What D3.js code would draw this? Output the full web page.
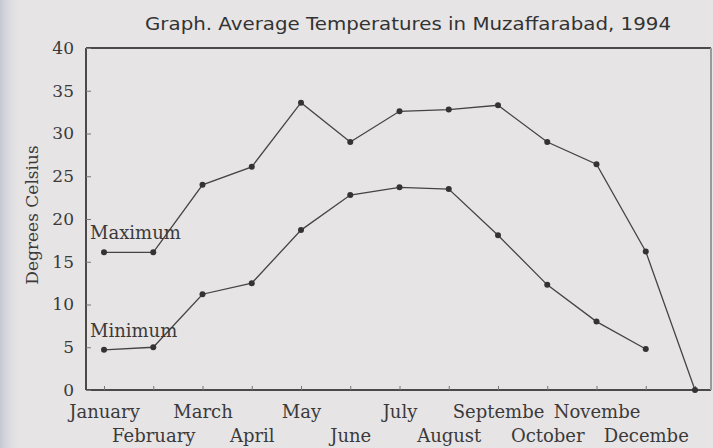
<!DOCTYPE html>
<html>
<head>
<meta charset="utf-8">
<script src="https://cdn.jsdelivr.net/npm/d3@7"></script>
<style>
  html, body { margin: 0; padding: 0; background: #e7e4e5; }
  svg { display: block; }
</style>
</head>
<body>
<div id="graph"></div>
<script>
var months = ["January", "February", "March", "April", "May", "June", "July",
  "August", "Septembe", "October", "Novembe", "Decembe", ""];
var maxTemps = [16.1, 16.1, 24.0, 26.1, 33.6, 29.0, 32.6, 32.8, 33.3, 29.0, 26.4, 16.2, 0];
var minTemps = [4.7, 5.0, 11.2, 12.5, 18.7, 22.8, 23.7, 23.5, 18.1, 12.3, 8.0, 4.8];
var yTicks = [0, 5, 10, 15, 20, 25, 30, 35, 40];

var w = 713;
var h = 448;

var vis = d3.select("#graph")
  .append("svg")
  .attr("width", w)
  .attr("height", h);

// paper background, darker at the left edge like the scan
var defs = vis.append("defs");
var grad = defs.append("linearGradient")
  .attr("id", "edge")
  .attr("x1", 0).attr("x2", 1).attr("y1", 0).attr("y2", 0);
grad.append("stop").attr("offset", "0%").attr("stop-color", "#c4c7d3");
grad.append("stop").attr("offset", "100%").attr("stop-color", "#e7e4e5").attr("stop-opacity", 0);

vis.append("rect")
  .attr("width", w).attr("height", h)
  .attr("fill", "#e7e4e5");
vis.append("rect")
  .attr("width", 22).attr("height", h)
  .attr("fill", "url(#edge)");

var plotLeft = 86, plotRight = 711, plotTop = 48, plotBottom = 390;

var x = d3.scalePoint()
  .domain(d3.range(months.length))
  .range([104, 695]);

var y = d3.scaleLinear()
  .domain([0, 40])
  .range([plotBottom, plotTop]);

var ink = "#3a3a3a";
var serif = "'DejaVu Serif', serif";

// frame
var frame = [
  {x1: plotLeft, y1: plotTop, x2: plotRight, y2: plotTop, c: "#4a4a4a"},
  {x1: plotLeft, y1: plotTop, x2: plotLeft, y2: plotBottom, c: "#4a4a4a"},
  {x1: plotLeft, y1: plotBottom, x2: plotRight, y2: plotBottom, c: "#4a4a4a"},
  {x1: plotRight, y1: plotTop, x2: plotRight, y2: plotBottom, c: "#9a9a9a"}
];
vis.selectAll(".frame")
  .data(frame)
  .enter()
  .append("line")
  .attr("x1", function(d) { return d.x1; })
  .attr("y1", function(d) { return d.y1; })
  .attr("x2", function(d) { return d.x2; })
  .attr("y2", function(d) { return d.y2; })
  .attr("stroke", function(d) { return d.c; })
  .attr("stroke-width", 2);

// y axis
var yAxis = d3.axisLeft(y)
  .tickValues(yTicks)
  .tickSizeInner(-5)
  .tickSizeOuter(0)
  .tickPadding(12);

var ya = vis.append("g")
  .attr("transform", "translate(" + plotLeft + ",0)")
  .call(yAxis);
ya.select(".domain").remove();
ya.selectAll("line").attr("stroke", "#777");
ya.selectAll("text")
  .attr("fill", ink)
  .style("font-family", serif)
  .style("font-size", "17px");

// x axis
var xAxis = d3.axisBottom(x)
  .tickSizeInner(-4)
  .tickSizeOuter(0)
  .tickFormat(function(i) { return months[i]; });

var xa = vis.append("g")
  .attr("transform", "translate(0," + plotBottom + ")")
  .call(xAxis);
xa.select(".domain").remove();
xa.selectAll("line").attr("stroke", "#777");
xa.selectAll("text")
  .attr("fill", ink)
  .attr("y", function(i) { return i % 2 == 0 ? 28 : 52; })
  .attr("dy", 0)
  .style("font-family", serif)
  .style("font-size", "18px");

// lines
var line = d3.line()
  .x(function(d, i) { return x(i); })
  .y(function(d) { return y(d); });

[maxTemps, minTemps].forEach(function(series) {
  vis.append("path")
    .datum(series)
    .attr("d", line)
    .attr("fill", "none")
    .attr("stroke", "#444")
    .attr("stroke-width", 1.3);

  vis.selectAll(null)
    .data(series)
    .enter()
    .append("circle")
    .attr("cx", function(d, i) { return x(i); })
    .attr("cy", function(d) { return y(d); })
    .attr("r", 3)
    .attr("fill", "#333");
});

// series labels
vis.append("text")
  .attr("x", 90).attr("y", 239)
  .attr("fill", ink)
  .style("font-family", serif)
  .style("font-size", "18px")
  .text("Maximum");

vis.append("text")
  .attr("x", 90).attr("y", 337)
  .attr("fill", ink)
  .style("font-family", serif)
  .style("font-size", "18px")
  .text("Minimum");

// y label
vis.append("text")
  .attr("transform", "translate(38,215) rotate(-90)")
  .attr("text-anchor", "middle")
  .attr("fill", ink)
  .style("font-family", serif)
  .style("font-size", "17px")
  .text("Degrees Celsius");

// title
vis.append("text")
  .attr("x", 145).attr("y", 30)
  .attr("textLength", 526)
  .attr("lengthAdjust", "spacingAndGlyphs")
  .attr("fill", "#333")
  .style("font-family", "'DejaVu Sans', sans-serif")
  .style("font-size", "18px")
  .text("Graph. Average Temperatures in Muzaffarabad, 1994");
</script>
</body>
</html>
